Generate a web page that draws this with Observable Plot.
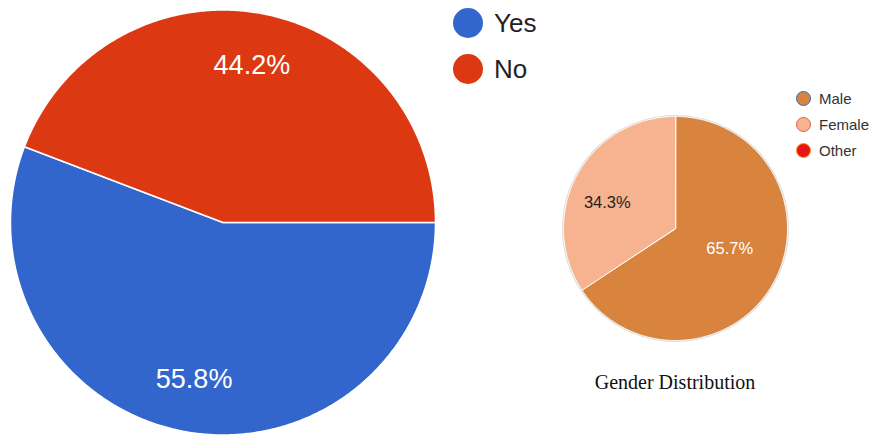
<!DOCTYPE html>
<html>
<head>
<meta charset="utf-8">
<script src="https://cdn.jsdelivr.net/npm/d3@7"></script>
<script src="https://cdn.jsdelivr.net/npm/@observablehq/plot@0.6"></script>
<style>
  html, body { margin: 0; padding: 0; background: #fff; }
  #wrap { position: relative; width: 874px; height: 435px; overflow: hidden; font-family: "Liberation Sans", Arial, sans-serif; }
  .abs { position: absolute; }
  .lg-dot { position: absolute; border-radius: 50%; box-sizing: border-box; }
  .lg-txt { position: absolute; white-space: nowrap; line-height: 1; }
</style>
</head>
<body>
<div id="wrap"></div>
<script>
// ---------- data ----------
const answerLabels = ["Yes", "No"];
const answerValues = [55.8, 44.2];
const answerColors = ["#3366cc", "#dc3912"];

const genderLabels = ["Male", "Female", "Other"];
const genderValues = [65.7, 34.3, 0];
const genderColors = ["#d9843e", "#f7b38f", "#e8141c"];
const genderLegendStrokes = ["#3366cc", "#e0603a", "#ff9900"];

const genderTitle = "Gender Distribution";

// ---------- helpers ----------
function buildSlices(labels, values, startDeg, labelR, offsets, rPx) {
  const total = d3.sum(values);
  const pts = [], lbls = [];
  let acc = startDeg;
  labels.forEach((k, i) => {
    const v = values[i];
    if (v <= 0) return;
    const span = v / total * 360;
    const a0 = acc, a1 = acc + span;
    acc = a1;
    pts.push({key: k, x: 0, y: 0});
    const n = Math.max(2, Math.ceil(span / 0.5));
    for (let j = 0; j <= n; j++) {
      const a = (a0 + (a1 - a0) * j / n) * Math.PI / 180;
      pts.push({key: k, x: Math.sin(a), y: Math.cos(a)});
    }
    const m = ((a0 + a1) / 2) * Math.PI / 180;
    const off = (offsets && offsets[k]) || [0, 0];
    lbls.push({key: k,
      x: labelR * Math.sin(m) + off[0] / rPx,
      y: labelR * Math.cos(m) - off[1] / rPx,
      text: v.toFixed(1) + "%"});
  });
  return {pts, lbls};
}

const wrap = document.getElementById("wrap");

// ---------- left pie ----------
const left = buildSlices(answerLabels, answerValues, 90, 0.75, null, 212.5);
const leftPlot = Plot.plot({
  width: 445, height: 435,
  marginLeft: 10, marginRight: 10, marginTop: 9.5, marginBottom: 0.5,
  x: {domain: [-1, 1], axis: null},
  y: {domain: [-1, 1], axis: null},
  color: {domain: answerLabels, range: answerColors},
  style: {fontFamily: "'Liberation Sans', Arial, sans-serif", background: "transparent"},
  marks: [
    Plot.line(left.pts, {x: "x", y: "y", z: "key", fill: "key", stroke: "white", strokeWidth: 1.5, curve: "linear-closed"}),
    Plot.text(left.lbls, {x: "x", y: "y", text: "text", fill: "white", fontSize: 27, textAnchor: "middle"})
  ]
});
leftPlot.classList.add("abs");
leftPlot.style.left = "0px"; leftPlot.style.top = "0px";
wrap.appendChild(leftPlot);

// ---------- right pie ----------
const rightLabelOffsets = {Male: [-3, -11], Female: [-11, 5]};
const right = buildSlices(genderLabels, genderValues, 0, 0.58, rightLabelOffsets, 112);
const labelFill = {Male: "#ffffff", Female: "#222222", Other: "#222222"};
const rightPlot = Plot.plot({
  width: 240, height: 240,
  marginLeft: 8, marginRight: 8, marginTop: 6, marginBottom: 10,
  x: {domain: [-1, 1], axis: null},
  y: {domain: [-1, 1], axis: null},
  color: {domain: genderLabels, range: genderColors},
  style: {fontFamily: "'Liberation Sans', Arial, sans-serif", background: "transparent", overflow: "visible"},
  marks: [
    Plot.dot([{x: 0, y: 0}], {x: "x", y: "y", r: 113.5, fill: "#dcdcdc", stroke: "none"}),
    Plot.line(right.pts, {x: "x", y: "y", z: "key", fill: "key", stroke: "white", strokeWidth: 1, curve: "linear-closed"}),
    Plot.text(right.lbls, {x: "x", y: "y", text: "text", fill: d => labelFill[d.key], fontSize: 16.5, textAnchor: "middle"})
  ]
});
rightPlot.classList.add("abs");
rightPlot.style.left = "555px"; rightPlot.style.top = "110px";
wrap.appendChild(rightPlot);

// ---------- legends ----------
function addDot(cx, cy, r, fill, stroke, sw) {
  const d = document.createElement("div");
  d.className = "lg-dot";
  d.style.left = (cx - r) + "px"; d.style.top = (cy - r) + "px";
  d.style.width = (2 * r) + "px"; d.style.height = (2 * r) + "px";
  d.style.background = fill;
  if (stroke) d.style.border = sw + "px solid " + stroke;
  wrap.appendChild(d);
}
function addText(x, cy, txt, size, color, family) {
  const t = document.createElement("div");
  t.className = "lg-txt";
  t.textContent = txt;
  t.style.fontSize = size + "px";
  t.style.color = color;
  if (family) t.style.fontFamily = family;
  t.style.left = x + "px";
  t.style.top = (cy - size / 2) + "px";
  wrap.appendChild(t);
}
answerLabels.forEach((k, i) => {
  const cy = 23 + i * 46;
  addDot(468, cy, 15, answerColors[i]);
  addText(494, cy, k, 26, "#222");
});
genderLabels.forEach((k, i) => {
  const cy = 98 + i * 26;
  addDot(803, cy, 7.5, genderColors[i], genderLegendStrokes[i], 1.2);
  addText(819, cy, k, 15, "#333");
});
// title
const title = document.createElement("div");
title.className = "lg-txt";
title.textContent = genderTitle;
title.style.fontFamily = "'Liberation Serif', 'Times New Roman', serif";
title.style.fontSize = "20px";
title.style.color = "#111";
title.style.width = "240px";
title.style.textAlign = "center";
title.style.left = "555px";
title.style.top = "372px";
wrap.appendChild(title);
</script>
</body>
</html>
